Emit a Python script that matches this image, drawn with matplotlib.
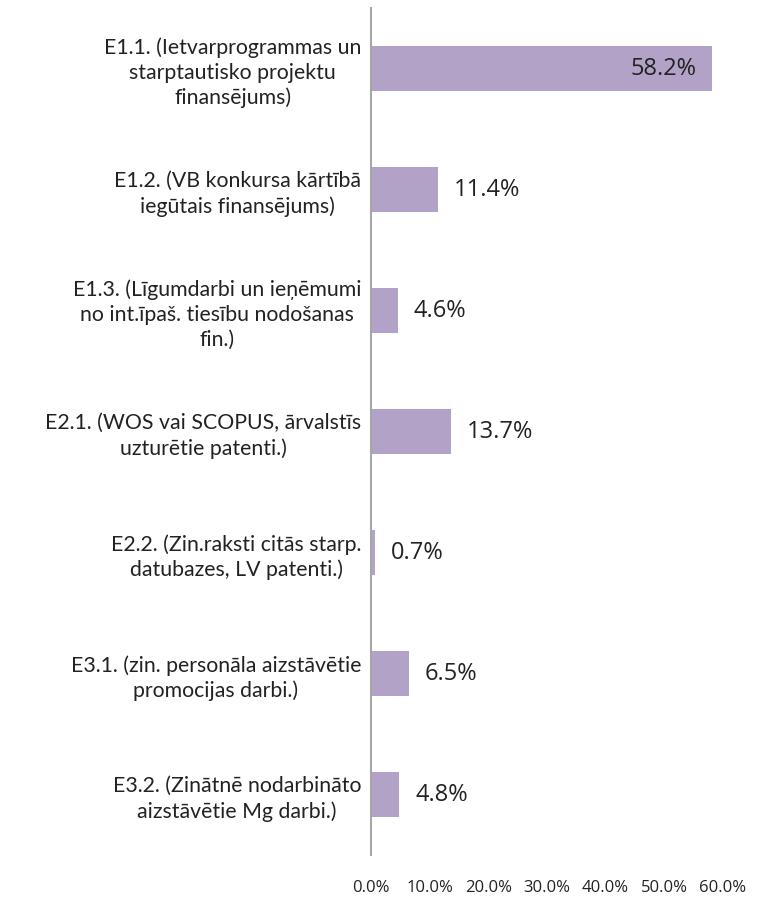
import matplotlib
matplotlib.use("Agg")
import matplotlib.pyplot as plt
from matplotlib.ticker import FuncFormatter

categories = [
    "E1.1. (Ietvarprogrammas un\nstarptautisko projektu\nfinansējums)",
    "E1.2. (VB konkursa kārtībā\niegūtais finansējums)",
    "E1.3. (Līgumdarbi un ieņēmumi\nno int.īpaš. tiesību nodošanas\nfin.)",
    "E2.1. (WOS vai SCOPUS, ārvalstīs\nuzturētie patenti.)",
    "E2.2. (Zin.raksti citās starp.\ndatubazes, LV patenti.)",
    "E3.1. (zin. personāla aizstāvētie\npromocijas darbi.)",
    "E3.2. (Zinātnē nodarbināto\naizstāvētie Mg darbi.)",
]
values = [58.2, 11.4, 4.6, 13.7, 0.7, 6.5, 4.8]
xticks = [0, 10, 20, 30, 40, 50, 60]

plt.rcParams['font.family'] = ['Open Sans', 'DejaVu Sans']

fig = plt.figure(figsize=(7.71, 8.99), dpi=100)
ax = fig.add_axes([371/771, 1-855/899, (723-371)/771, (855-8)/899])

y = list(range(len(categories)))
ax.barh(y, values, height=0.37, color="#B3A2C7")
ax.set_ylim(len(categories)-0.5, -0.5)
ax.set_xlim(0, 60)

for yi, v in zip(y, values):
    if v > 40:
        ax.text(v - 2.7, yi, f"{v:.1f}%", ha="right", va="center", fontsize=17, color="#222222")
    else:
        ax.text(v + 2.7, yi, f"{v:.1f}%", ha="left", va="center", fontsize=17, color="#222222")

ax.set_yticks(y)
ax.set_yticklabels(categories, fontsize=15.3, color="#222222", ha="right",
                   multialignment="center", family=["Lato", "DejaVu Sans"], linespacing=1.3)
ax.tick_params(axis="y", length=0, pad=7)
ax.set_xticks(xticks)
ax.xaxis.set_major_formatter(FuncFormatter(lambda v, p: f"{v:.1f}%"))
ax.tick_params(axis="x", length=0, pad=18, labelsize=12, labelcolor="#222222")

for s in ["top", "right", "bottom"]:
    ax.spines[s].set_visible(False)
ax.spines["left"].set_color("#A6A6A6")
ax.spines["left"].set_linewidth(1.5)

fig.savefig("out.png", dpi=100)
